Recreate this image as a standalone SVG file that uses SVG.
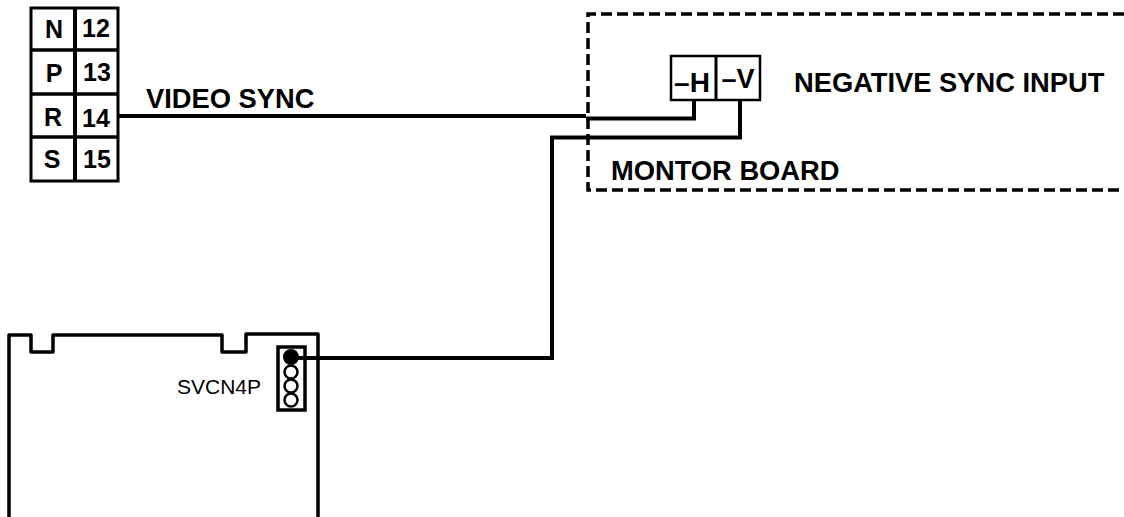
<svg xmlns="http://www.w3.org/2000/svg" width="1124" height="517" viewBox="0 0 1124 517">
<style>
text{font-family:"Liberation Sans",Arial,sans-serif;fill:#000;font-weight:bold}
.l{font-size:25px;text-anchor:middle}
.t{font-size:27.300px}
.box{fill:#fff;stroke:#000;stroke-width:3}
.wire{fill:none;stroke:#000;stroke-width:4}
</style>
<rect width="1124" height="517" fill="#fff"/>
<g id="terminal-block">
<rect class="box" x="31" y="8" width="87" height="173"/>
<path d="M75 8V181" stroke="#000" stroke-width="4" fill="none"/>
<path d="M31 50H118M31 94H118M31 137H118" stroke="#000" stroke-width="3.500" fill="none"/>
<text class="l" x="54" y="38">N</text><text class="l" x="96" y="37">12</text>
<text class="l" x="54" y="82">P</text><text class="l" x="97" y="81">13</text>
<text class="l" x="53" y="126">R</text><text class="l" x="96" y="127">14</text>
<text class="l" x="52" y="168">S</text><text class="l" x="97" y="168">15</text>
</g>
<g id="monitor-board">
<path d="M1124 14H588V190H1124" fill="none" stroke="#000" stroke-width="3.500" stroke-dasharray="11 5"/>
<text class="t" x="611" y="180">MONTOR BOARD</text>
<text class="t" x="794" y="92">NEGATIVE SYNC INPUT</text>
</g>
<g id="sync-connector">
<rect x="671" y="56" width="89" height="44" fill="#fff" stroke="#000" stroke-width="2.500"/>
<path d="M716 56V100" stroke="#000" stroke-width="3" fill="none"/>
<text class="l" x="692" y="92" style="font-size:28px">–H</text>
<text class="l" x="738" y="88" style="font-size:27px">–V</text>
</g>
<g id="main-board">
<path d="M9 517V335H31V352H53V335H222V352H246V334H318V517" fill="none" stroke="#000" stroke-width="3.500" stroke-linejoin="round"/>
<text x="177" y="394" style="font-size:21px;font-weight:normal">SVCN4P</text>
<g id="svcn4p">
<rect x="278" y="347" width="27" height="63" fill="#fff" stroke="#000" stroke-width="3.500"/>
<circle cx="291" cy="357" r="7" fill="#000" stroke="#000" stroke-width="2"/>
<circle cx="291" cy="372" r="6.500" fill="#fff" stroke="#000" stroke-width="2.500"/>
<circle cx="291" cy="386" r="6.500" fill="#fff" stroke="#000" stroke-width="2.500"/>
<circle cx="291" cy="400" r="6.500" fill="#fff" stroke="#000" stroke-width="2.500"/>
</g>
</g>
<g id="connectors">
<path class="wire" d="M118 116H586"/>
<path class="wire" d="M586 118.500H694V100"/>
<path class="wire" d="M291 358H552V137.500H740V100"/>
</g>
<text class="t" x="146" y="108">VIDEO SYNC</text>
</svg>
